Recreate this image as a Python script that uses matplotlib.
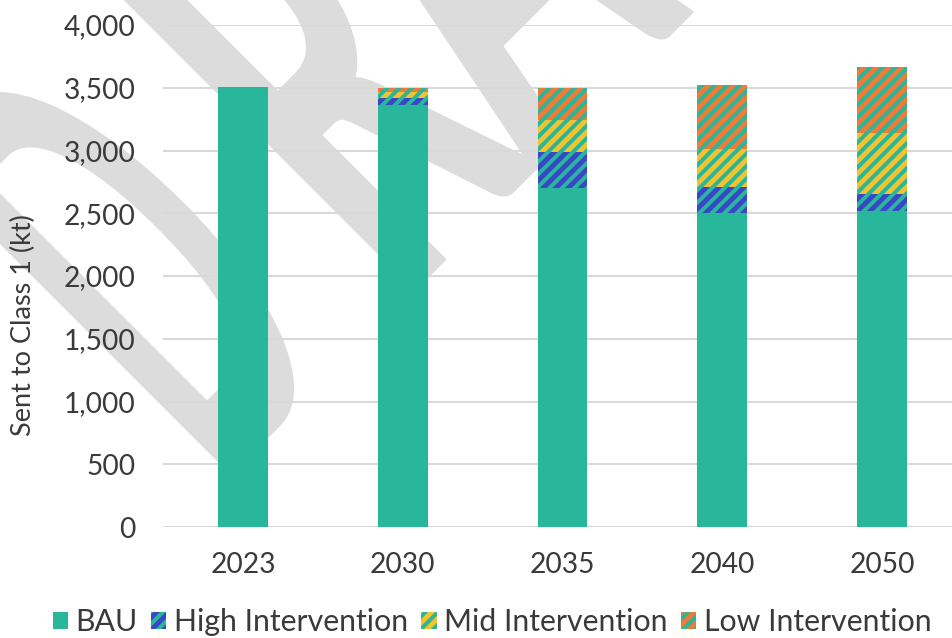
import matplotlib
matplotlib.use("Agg")
import matplotlib.pyplot as plt
import numpy as np
from matplotlib.ticker import FuncFormatter
from matplotlib.textpath import TextPath
from matplotlib.font_manager import FontProperties
from matplotlib.patches import PathPatch
from matplotlib.transforms import Affine2D, IdentityTransform

years = ["2023", "2030", "2035", "2040", "2050"]
bau = [3505, 3360, 2700, 2500, 2515]
high = [0, 57, 287, 208, 137]
mid = [0, 48, 255, 303, 486]
low = [0, 32, 255, 509, 526]
series_names = ["BAU", "High Intervention", "Mid Intervention", "Low Intervention"]
yticks = [0, 500, 1000, 1500, 2000, 2500, 3000, 3500, 4000]

TEAL = "#29B79B"
BLUE = "#3A46C8"
YELLOW = "#F2C22F"
ORANGE = "#EE7B37"
TXT = "#3A3A3A"
WM = "#DCDCDC"

plt.rcParams["font.family"] = ["Lato", "DejaVu Sans"]
plt.rcParams["hatch.linewidth"] = 1.9

DPI = 150
W, H = 952, 638
fig = plt.figure(figsize=(W / DPI, H / DPI), dpi=DPI)

# ---- "DRAFT" watermark (diagonal, condensed letters) ----
wm_letters = ["D", "R", "A", "F", "T"]
wm_spans = [(-171, -15), (89, 265), (258, 481), (520, 660), (690, 860)]  # along baseline, px
cap_px = 450.0
fp = FontProperties(family="Lato", weight="bold")
ref = TextPath((0, 0), "D", size=100, prop=fp).get_extents()
k = cap_px / ref.ymax
to_screen = Affine2D().rotate_deg(45).translate(352, H - 352)
for ch, (u0, u1) in zip(wm_letters, wm_spans):
    tp = TextPath((0, 0), ch, size=100, prop=fp)
    ext = tp.get_extents()
    sx = (u1 - u0) / (k * (ext.xmax - ext.xmin))
    tr = (Affine2D().translate(-ext.xmin, 0).scale(k * sx, k)
          .translate(u0, 0)) + to_screen
    path = tr.transform_path(tp)
    pp = PathPatch(path, facecolor=WM, edgecolor=WM, linewidth=1.5,
                   joinstyle="round", zorder=-5)
    pp.set_transform(IdentityTransform())
    fig.add_artist(pp)

ax = fig.add_axes([163 / W, 111 / H, 1 - 163 / W, (527 - 25) / H])
ax.set_facecolor("none")

x = np.arange(len(years))
w = 0.3125
b0 = np.array(bau, dtype=float)
b1 = b0 + np.array(high)
b2 = b1 + np.array(mid)

ax.bar(x, bau, w, color=TEAL, linewidth=0, label=series_names[0], zorder=3)
ax.bar(x, high, w, bottom=b0, facecolor=BLUE, edgecolor=TEAL, linewidth=0,
       hatch="////", label=series_names[1], zorder=3)
ax.bar(x, mid, w, bottom=b1, facecolor=YELLOW, edgecolor=TEAL, linewidth=0,
       hatch="////", label=series_names[2], zorder=3)
ax.bar(x, low, w, bottom=b2, facecolor=ORANGE, edgecolor=TEAL, linewidth=0,
       hatch="////", label=series_names[3], zorder=3)

ax.set_xlim(-0.5, 4.4375)
ax.set_ylim(0, 4000)
ax.set_yticks(yticks)
ax.yaxis.set_major_formatter(FuncFormatter(lambda v, p: f"{int(v):,}"))
ax.set_xticks(x)
ax.set_xticklabels(years)
ax.grid(axis="y", color="#D9D9D9", linewidth=1.0, zorder=0)
ax.set_axisbelow(True)
for s in ax.spines.values():
    s.set_visible(False)
ax.tick_params(axis="both", length=0, labelsize=13.5, colors=TXT)
ax.tick_params(axis="y", pad=13)
ax.tick_params(axis="x", pad=12)
ax.set_ylabel("Sent to Class 1 (kt)", fontsize=13, color=TXT)
ax.yaxis.set_label_coords((36 - 163) / 789, (527 - 325) / 502)

leg = fig.legend(loc="center", bbox_to_anchor=(492 / W, 1 - 622 / H), ncol=4,
                 frameon=False, fontsize=14.5, handlelength=0.5, handleheight=0.5,
                 handletextpad=0.25, columnspacing=0.45, labelcolor=TXT,
                 borderaxespad=0, borderpad=0)

fig.savefig("out.png", dpi=DPI)
